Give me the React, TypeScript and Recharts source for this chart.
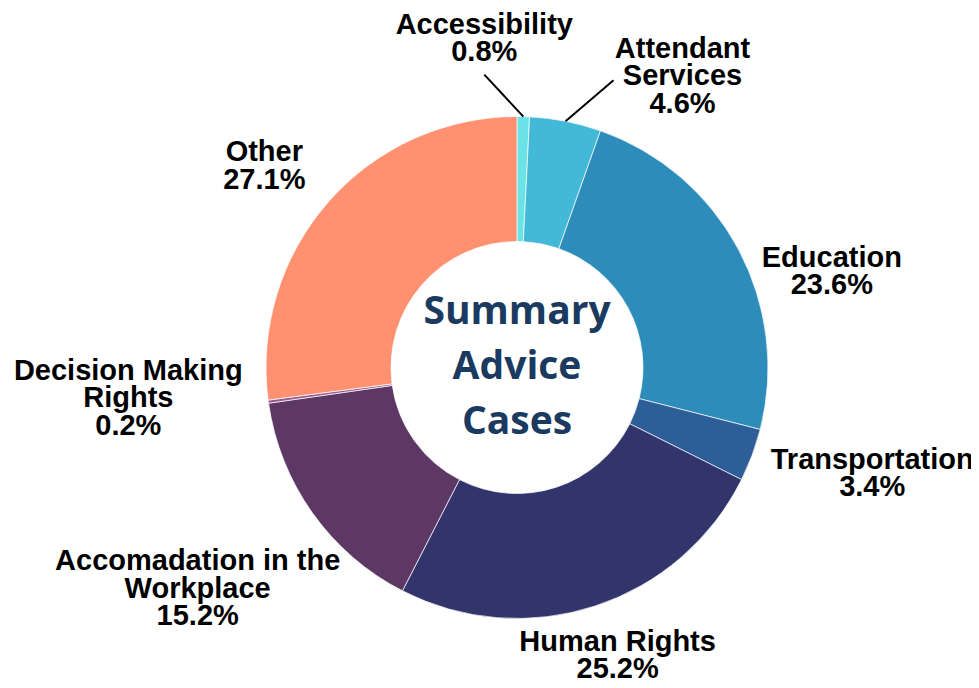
import { PieChart, Pie, Cell } from 'recharts'

const categories = [
  'Accessibility',
  'Attendant Services',
  'Education',
  'Transportation',
  'Human Rights',
  'Accomadation in the Workplace',
  'Decision Making Rights',
  'Other',
]
const shares = [0.8, 4.6, 23.6, 3.4, 25.2, 15.2, 0.2, 27.1]
const labelText = [
  ['Accessibility'],
  ['Attendant', 'Services'],
  ['Education'],
  ['Transportation'],
  ['Human Rights'],
  ['Accomadation in the', 'Workplace'],
  ['Decision Making', 'Rights'],
  ['Other'],
]
const titleLines = ['Summary', 'Advice', 'Cases']

const colors = ['#6ae2e6', '#42b9d6', '#2e8cbb', '#2e5e97', '#32346c', '#5d3865', '#9c5a8c', '#ff9171']

const data = categories.map((name, i) => ({ name, value: shares[i] }))

const CX = 517
const CY = 367.5

// label centre, relative to the slice's outer edge at its mid angle
const labelOffsets = [
  [-39, -79],
  [117, -46],
  [93.5, 21.6],
  [120, 17.5],
  [22.4, 48.3],
  [-115, 74.5],
  [-140, -4.5],
  [-64, -37],
]
// leader lines for the two small slices at the top
const leaders: Record<number, number[]> = { 0: [-39, -42], 1: [48, -41] }

const RAD = Math.PI / 180
const LH = 27.5

function renderLabel(props: any) {
  const { cx, cy, midAngle, outerRadius, index } = props
  const ax = cx + outerRadius * Math.cos(-midAngle * RAD)
  const ay = cy + outerRadius * Math.sin(-midAngle * RAD)
  const [dx, dy] = labelOffsets[index]
  const lines = [...labelText[index], `${shares[index].toFixed(1)}%`]
  const top = ay + dy - ((lines.length - 1) * LH) / 2 + 10
  const leader = leaders[index]
  return (
    <g key={`lbl-${index}`}>
      {leader && (
        <line x1={ax} y1={ay} x2={ax + leader[0]} y2={ay + leader[1]} stroke="#000" strokeWidth={2} />
      )}
      <text
        x={ax + dx}
        y={top}
        textAnchor="middle"
        fontFamily="'Liberation Sans', Arial, sans-serif"
        fontWeight={700}
        fontSize={29}
        fill="#000"
      >
        {lines.map((l, i) => (
          <tspan key={i} x={ax + dx} y={top + i * LH}>
            {l}
          </tspan>
        ))}
      </text>
    </g>
  )
}

function CenterTitle() {
  return (
    <text
      x={CX}
      textAnchor="middle"
      fontFamily="'Open Sans', sans-serif"
      fontWeight={700}
      fontSize={39}
      fill="#1b3a5f"
    >
      {titleLines.map((t, i) => (
        <tspan key={t} x={CX} y={CY - 43.5 + i * 55}>
          {t}
        </tspan>
      ))}
    </text>
  )
}

export default function App() {
  return (
    <div style={{ margin: -8 }}>
      <PieChart width={979} height={688} margin={{ top: 0, right: 0, bottom: 0, left: 0 }}>
        <Pie
          data={data}
          dataKey="value"
          nameKey="name"
          cx={CX}
          cy={CY}
          innerRadius={126}
          outerRadius={251}
          startAngle={90}
          endAngle={-270}
          stroke="#ffffff"
          strokeWidth={0.7}
          label={renderLabel}
          labelLine={false}
          isAnimationActive={false}
        >
          {data.map((d, i) => (
            <Cell key={d.name} fill={colors[i]} />
          ))}
        </Pie>
        <CenterTitle />
      </PieChart>
    </div>
  )
}
